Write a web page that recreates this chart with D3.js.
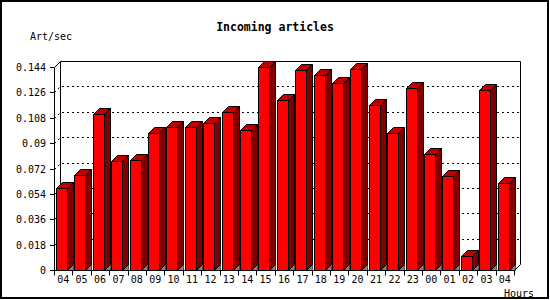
<!DOCTYPE html>
<html>
<head>
<meta charset="utf-8">
<script src="https://d3js.org/d3.v7.min.js"></script>
<style>
  body { margin: 0; background: #fff; }
  svg { display: block; }
  text { font-family: "DejaVu Sans Mono", monospace; }
</style>
</head>
<body>
<svg id="chart" width="550" height="300"></svg>
<script>
// hours on the x axis (last 24h plus current)
const hours = ["04","05","06","07","08","09","10","11","12","13","14","15","16",
               "17","18","19","20","21","22","23","00","01","02","03","04"];
// articles per second
const artPerSec = [0.058, 0.0674, 0.1107, 0.0773, 0.078, 0.0972, 0.1014, 0.1014, 0.104,
                   0.1118, 0.0993, 0.1438, 0.1206, 0.1419, 0.1383, 0.1327, 0.1426, 0.117,
                   0.0972, 0.1291, 0.082, 0.0667, 0.0099, 0.1277, 0.0615];
const yTicks = [0, 0.018, 0.036, 0.054, 0.072, 0.09, 0.108, 0.126, 0.144];
const yTickLabels = ["0", "0.018", "0.036", "0.054", "0.072", "0.09", "0.108", "0.126", "0.144"];

const svg = d3.select("#chart");
const plotLeft = 54, plotRight = 514, plotBottom = 270, plotTop = 67;
const depth = 6;   // 3d offset

const xScale = d3.scaleBand()
    .domain(d3.range(hours.length))
    .range([plotLeft, plotRight])
    .padding(0);

const yScale = d3.scaleLinear()
    .domain([0, 0.144])
    .range([plotBottom, plotTop]);

// pixel snapping helper for crisp 1px lines
const px = v => Math.round(v) + 0.5;

// outer frame
svg.append("rect")
    .attr("x", 1).attr("y", 1)
    .attr("width", 547).attr("height", 297)
    .attr("fill", "#fff")
    .attr("stroke", "#000")
    .attr("stroke-width", 2);

const L = px(plotLeft), R = px(plotRight), B = px(plotBottom), T = px(plotTop);

// back wall
svg.append("path")
    .attr("d", `M${L},${B} L${L},${T} L${L + depth},${T - depth} L${R + depth},${T - depth} L${R + depth},${B - depth} L${R},${B}`)
    .attr("fill", "none")
    .attr("stroke", "#000");
svg.append("line")
    .attr("x1", L + depth).attr("y1", T - depth)
    .attr("x2", L + depth).attr("y2", B - depth)
    .attr("stroke", "#000");

// dotted grid lines on the wall
svg.append("g")
    .selectAll("path")
    .data(yTicks.filter(d => d > 0 && d < 0.144))
    .join("path")
    .attr("d", d => {
        const y = px(yScale(d));
        return `M${L},${y} L${L + depth},${y - depth} L${R + depth},${y - depth}`;
    })
    .attr("fill", "none")
    .attr("stroke", "#000")
    .attr("stroke-dasharray", "2,3");

// y axis
const yAxis = d3.axisLeft(yScale)
    .tickValues(yTicks)
    .tickFormat((d, i) => yTickLabels[i])
    .tickSize(4)
    .tickSizeOuter(0);

svg.append("g")
    .attr("transform", `translate(${plotLeft},0)`)
    .call(yAxis)
    .call(g => g.select(".domain").remove())
    .call(g => g.selectAll(".tick").attr("transform", d => `translate(0,${px(yScale(d))})`))
    .call(g => g.selectAll("text")
        .attr("x", -8)
        .style("font-size", "10px")
        .style("font-family", "DejaVu Sans Mono"));

// bars
const barW = 11;
const bars = svg.append("g")
    .selectAll("g")
    .data(artPerSec)
    .join("g");

// floor shadow
bars.append("path")
    .attr("d", (d, i) => {
        const x1 = px(xScale(i) + 2) + barW;
        return `M${x1},${B} L${x1 + depth},${B - depth} L${x1 + depth},${B} Z`;
    })
    .attr("fill", "#808080")
    .attr("stroke", "#000")
    .attr("stroke-width", 0.6);

// side
bars.append("path")
    .attr("d", (d, i) => {
        const x1 = px(xScale(i) + 2) + barW, y = px(yScale(d));
        return `M${x1},${y} L${x1 + depth},${y - depth} L${x1 + depth},${B - depth} L${x1},${B} Z`;
    })
    .attr("fill", "#800000")
    .attr("stroke", "#000");

// top
bars.append("path")
    .attr("d", (d, i) => {
        const x0 = px(xScale(i) + 2), y = px(yScale(d));
        return `M${x0},${y} L${x0 + depth},${y - depth} L${x0 + barW + depth},${y - depth} L${x0 + barW},${y} Z`;
    })
    .attr("fill", "#c00000")
    .attr("stroke", "#000");

// front
bars.append("rect")
    .attr("x", (d, i) => px(xScale(i) + 2))
    .attr("y", d => px(yScale(d)))
    .attr("width", barW)
    .attr("height", d => B - px(yScale(d)))
    .attr("fill", "#ff0000")
    .attr("stroke", "#000");

// x axis
const xAxis = d3.axisBottom(xScale)
    .tickFormat(i => hours[i])
    .tickSize(0)
    .tickSizeOuter(0);

svg.append("g")
    .attr("transform", `translate(0,${plotBottom})`)
    .call(xAxis)
    .call(g => g.select(".domain").attr("d", `M${L},0.5H${R}`))
    .call(g => g.selectAll("text")
        .attr("y", 6)
        .style("font-size", "10px")
        .style("font-family", "DejaVu Sans Mono"));

// x ticks on band edges
svg.append("g")
    .selectAll("line")
    .data(d3.range(hours.length + 1))
    .join("line")
    .attr("x1", i => px(plotLeft + i * xScale.step()))
    .attr("x2", i => px(plotLeft + i * xScale.step()))
    .attr("y1", B)
    .attr("y2", B + 5)
    .attr("stroke", "#000");

// labels
svg.append("text")
    .attr("x", 275).attr("y", 31)
    .attr("text-anchor", "middle")
    .style("font-size", "11.5px")
    .style("font-weight", "bold")
    .text("Incoming articles");

svg.append("text")
    .attr("x", 30).attr("y", 40)
    .style("font-size", "10px")
    .text("Art/sec");

svg.append("text")
    .attr("x", 504).attr("y", 297)
    .style("font-size", "10px")
    .text("Hours");
</script>
</body>
</html>
